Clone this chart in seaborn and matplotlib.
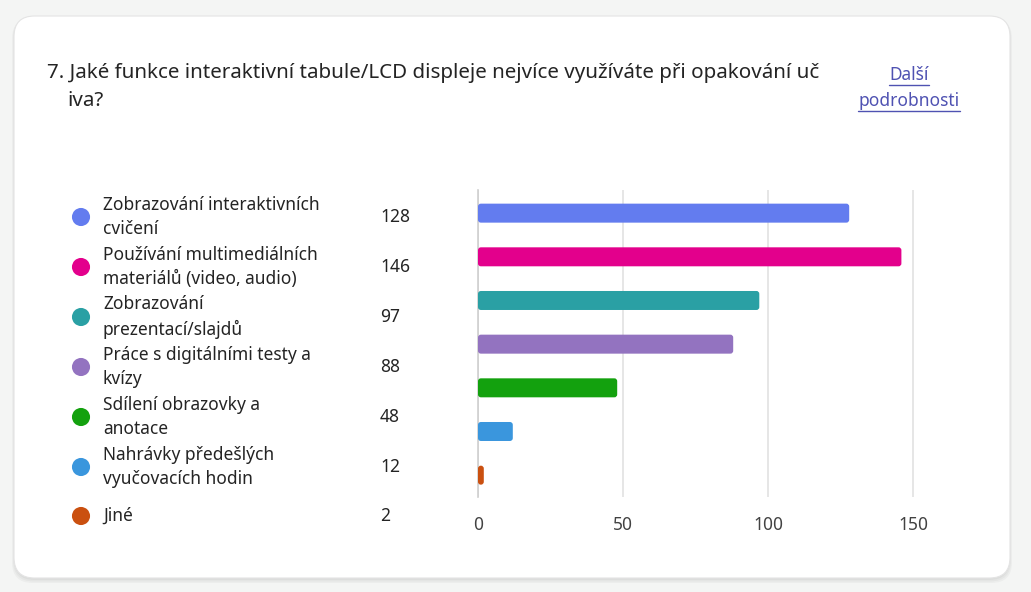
import matplotlib
matplotlib.use("Agg")
import matplotlib.pyplot as plt
from matplotlib.patches import FancyBboxPatch
from matplotlib.lines import Line2D
import seaborn as sns
import pandas as pd

# ---- data ----
categories = [
    "Zobrazování interaktivních\ncvičení",
    "Používání multimediálních\nmateriálů (video, audio)",
    "Zobrazování\nprezentací/slajdů",
    "Práce s digitálními testy a\nkvízy",
    "Sdílení obrazovky a\nanotace",
    "Nahrávky předešlých\nvyučovacích hodin",
    "Jiné",
]
values = [128, 146, 97, 88, 48, 12, 2]
colors = ["#637cef", "#e3008c", "#2aa0a4", "#9373c0", "#13a10e", "#3a96dd", "#ca5010"]
x_ticks = [0, 50, 100, 150]
title_line1 = "7. Jaké funkce interaktivní tabule/LCD displeje nejvíce využíváte při opakování uč"
title_line2 = "iva?"
link_lines = ["Další", "podrobnosti"]

FONT = "Noto Sans"
sns.set_theme(style="white")
plt.rcParams["font.family"] = [FONT, "DejaVu Sans"]

W, H = 1031, 592
fig = plt.figure(figsize=(W / 100, H / 100), dpi=100)
fig.patch.set_facecolor("#f4f5f4")

def fx(px):
    return px / W

def fy(py):
    return 1 - py / H

# card with shadow
for i in range(3):
    sh = FancyBboxPatch((fx(14 - i), fy(580 + i * 1.5)), fx(996 + 2 * i), (563 + i) / H,
                        boxstyle="round,pad=0,rounding_size=0.02", mutation_aspect=W / H,
                        transform=fig.transFigure, facecolor="#000000", alpha=0.03,
                        edgecolor="none", zorder=-3)
    fig.add_artist(sh)
card = FancyBboxPatch((fx(14), fy(578)), fx(996), 562 / H,
                      boxstyle="round,pad=0,rounding_size=0.02", mutation_aspect=W / H,
                      transform=fig.transFigure, facecolor="white", edgecolor="#e4e4e4",
                      linewidth=0.8, zorder=-2)
fig.add_artist(card)

# title
fig.text(fx(47), fy(73), title_line1, fontsize=14.8, color="#242424", va="center", ha="left")
fig.text(fx(67), fy(101), title_line2, fontsize=14.8, color="#242424", va="center", ha="left")
link_color = "#4f52b2"
link_texts = []
for i, t in enumerate(link_lines):
    yy = 75 + 26 * i
    link_texts.append(fig.text(fx(909), fy(yy), t, fontsize=12.5, color=link_color,
                               va="center", ha="center"))
fig.canvas.draw()
r = fig.canvas.get_renderer()
for t in link_texts:
    bb = t.get_window_extent(r)
    yline = bb.y0 - 1
    fig.add_artist(Line2D([bb.x0 / W, bb.x1 / W], [yline / H, yline / H],
                          transform=fig.transFigure, color=link_color, linewidth=1))

df = pd.DataFrame({"cat": categories, "val": values})
pal = dict(zip(categories, colors))

# ---- bar axes ----
ax = fig.add_axes([fx(478), fy(497), fx(449.5), (497 - 190) / H])
ax.set_zorder(2)
ax.set_facecolor("none")
sns.barplot(data=df, y="cat", x="val", hue="cat", palette=pal, orient="h",
            width=0.435, legend=False, ax=ax, saturation=1)
ax.set_xlim(0, 155)
ax.set_ylim(6.5, -0.53)
# round bar corners
px_per_x = 449.5 / 155
px_per_y = (497 - 190) / 7.03
for p in list(ax.patches):
    x0, y0 = p.get_x(), p.get_y()
    w, h = p.get_width(), p.get_height()
    fc = p.get_facecolor()
    p.set_visible(False)
    rb = FancyBboxPatch((x0, y0), w, h, boxstyle="round,pad=0,rounding_size=1.0",
                        mutation_aspect=px_per_x / px_per_y, facecolor=fc,
                        edgecolor="none", zorder=3)
    ax.add_patch(rb)
ax.set_xticks(x_ticks)
ax.set_xticklabels([str(t) for t in x_ticks], fontsize=12.5, color="#424242")
ax.tick_params(axis="x", length=0, pad=14)
ax.set_yticks([])
ax.set_xlabel("")
ax.set_ylabel("")
ax.grid(axis="x", color="#e1e1e1", linewidth=1.2)
ax.set_axisbelow(True)
for s in ["top", "right", "bottom"]:
    ax.spines[s].set_visible(False)
ax.spines["left"].set_color("#cfcfcf")
ax.spines["left"].set_linewidth(1.2)

# ---- legend axes (pixel data coords) ----
lax = fig.add_axes([fx(60), fy(540), fx(380), 350 / H])
lax.set_zorder(2)
lax.set_facecolor("none")
lax.set_xlim(60, 440)
lax.set_ylim(540, 190)
lax.axis("off")
rows = [217 + 50 * i for i in range(len(categories))]
rows[-1] -= 1
leg = pd.DataFrame({"x": [81] * len(categories), "y": rows, "cat": categories})
sns.scatterplot(data=leg, x="x", y="y", hue="cat", palette=pal, s=170, legend=False,
                ax=lax, edgecolor="none")
for yv, c, v in zip(rows, categories, values):
    lax.text(103, yv, c, fontsize=12.5, color="#242424", va="center", ha="left",
             linespacing=1.45)
    lax.text(380, yv, str(v), fontsize=12.5, color="#242424", va="center", ha="left")

fig.savefig("out.png", dpi=100, facecolor=fig.get_facecolor())
